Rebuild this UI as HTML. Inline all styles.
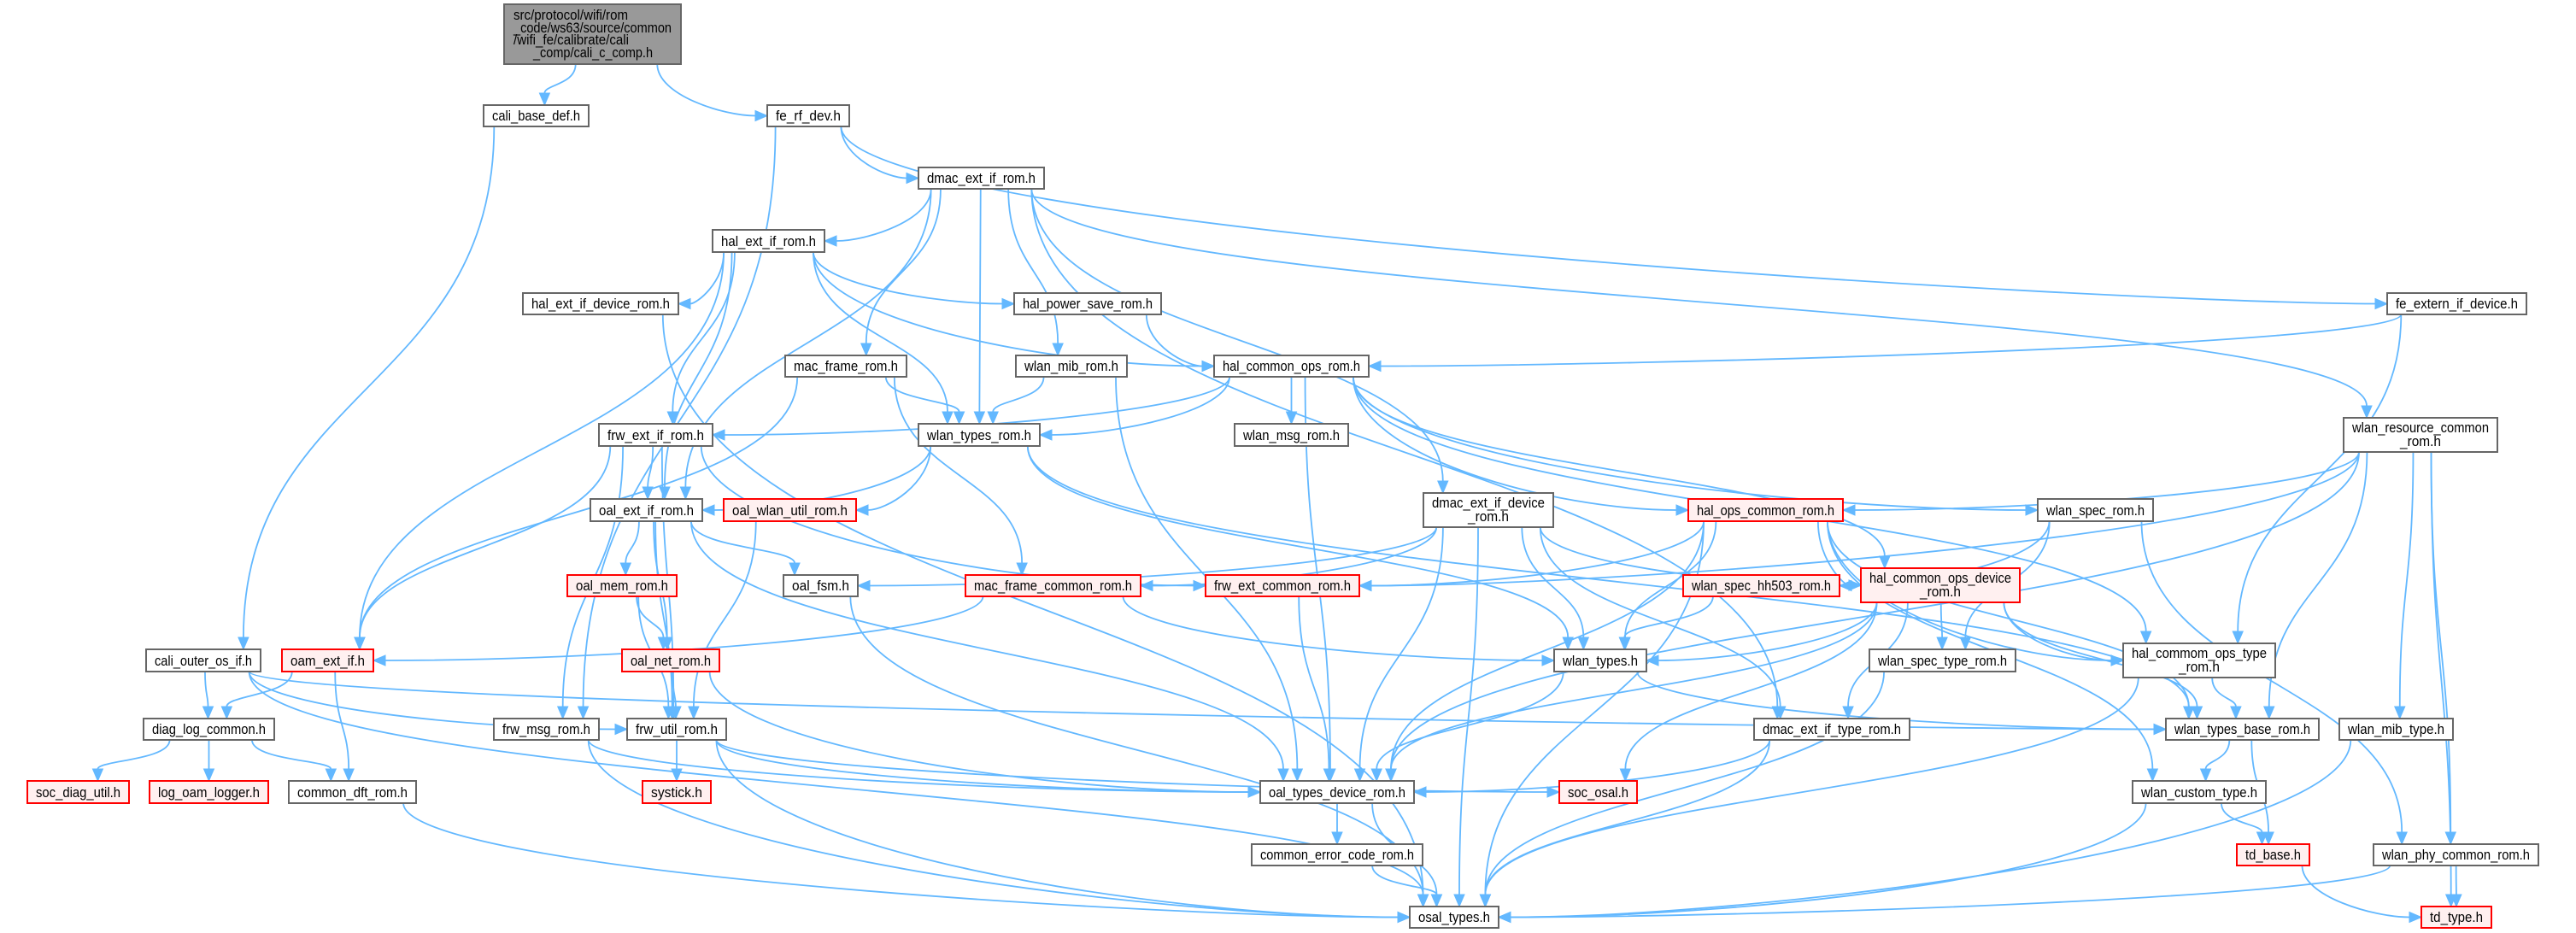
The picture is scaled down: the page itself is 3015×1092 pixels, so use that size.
<!DOCTYPE html>
<html><head><meta charset="utf-8"><style>
html,body{margin:0;padding:0;background:#fff;}
svg{display:block;}
text{font-family:"Liberation Sans",sans-serif;font-size:17px;fill:#000;}
</style></head><body>
<svg id="g" xmlns="http://www.w3.org/2000/svg" width="3015" height="1092" viewBox="0 0 3015 1092">
<rect width="3015" height="1092" fill="#fff"/>
<g id="edges"></g>
<g id="nodes"></g>
</svg>
<script>
var N={
root:[590,797,5,75,["src/protocol/wifi/rom","_code/ws63/source/common","/wifi_fe/calibrate/cali","_comp/cali_c_comp.h"],2],
cbd:[566,689,123,148,["cali_base_def.h"]],
frd:[898,994,123,148,["fe_rf_dev.h"]],
deir:[1075,1222,196,221,["dmac_ext_if_rom.h"]],
heir:[834,965,269,295,["hal_ext_if_rom.h"]],
heidr:[612,794,343,368,["hal_ext_if_device_rom.h"]],
hpsr:[1187,1359,343,368,["hal_power_save_rom.h"]],
feid:[2794,2957,343,368,["fe_extern_if_device.h"]],
mfr:[919,1061,416,441,["mac_frame_rom.h"]],
wmr:[1189,1319,416,441,["wlan_mib_rom.h"]],
hcor:[1421,1602,416,441,["hal_common_ops_rom.h"]],
feir:[701,834,496,522,["frw_ext_if_rom.h"]],
wtr:[1075,1217,496,522,["wlan_types_rom.h"]],
wmsg:[1445,1578,496,522,["wlan_msg_rom.h"]],
wrcr:[2743,2923,489,529,["wlan_resource_common","_rom.h"]],
oeir:[691,822,584,610,["oal_ext_if_rom.h"]],
owur:[847,1002,584,610,["oal_wlan_util_rom.h"],1],
deidr:[1666,1818,577,617,["dmac_ext_if_device","_rom.h"]],
hocr:[1976,2157,584,610,["hal_ops_common_rom.h"],1],
wsr:[2385,2520,584,610,["wlan_spec_rom.h"]],
omr:[664,792,673,698,["oal_mem_rom.h"],1],
ofsm:[917,1004,673,698,["oal_fsm.h"]],
mfcr:[1130,1335,673,698,["mac_frame_common_rom.h"],1],
fecr:[1411,1591,673,698,["frw_ext_common_rom.h"],1],
wshr:[1970,2153,673,698,["wlan_spec_hh503_rom.h"],1],
hcodr:[2178,2364,665,705,["hal_common_ops_device","_rom.h"],1],
coo:[171,305,760,786,["cali_outer_os_if.h"]],
oam:[330,437,760,786,["oam_ext_if.h"],1],
onr:[728,842,760,786,["oal_net_rom.h"],1],
wt:[1819,1927,760,786,["wlan_types.h"]],
wstr:[2188,2359,760,786,["wlan_spec_type_rom.h"]],
hcotr:[2485,2663,753,793,["hal_commom_ops_type","_rom.h"]],
dlc:[168,321,841,866,["diag_log_common.h"]],
fmr:[578,701,841,866,["frw_msg_rom.h"]],
fur:[734,850,841,866,["frw_util_rom.h"]],
deitr:[2053,2235,841,866,["dmac_ext_if_type_rom.h"]],
wtbr:[2535,2714,841,866,["wlan_types_base_rom.h"]],
wmt:[2738,2871,841,866,["wlan_mib_type.h"]],
sdu:[32,151,914,940,["soc_diag_util.h"],1],
lol:[175,314,914,940,["log_oam_logger.h"],1],
cdr:[338,487,914,940,["common_dft_rom.h"]],
sys:[752,832,914,940,["systick.h"],1],
otdr:[1475,1655,914,940,["oal_types_device_rom.h"]],
sos:[1825,1916,914,940,["soc_osal.h"],1],
wct:[2496,2652,914,940,["wlan_custom_type.h"]],
cecr:[1465,1665,988,1013,["common_error_code_rom.h"]],
tdb:[2618,2703,988,1013,["td_base.h"],1],
wpcr:[2778,2971,988,1013,["wlan_phy_common_rom.h"]],
ost:[1650,1754,1061,1086,["osal_types.h"]],
tdt:[2834,2916,1061,1086,["td_type.h"],1]
};
var E="root cbd,root frd,cbd coo,frd deir,frd fmr,frd feid,deir heir,deir oeir,deir mfr,deir wtr,deir wmr,deir deidr,deir wrcr,deir deitr,heir heidr,heir hpsr,heir hcor,heir feir,heir oeir,heir wtr,heir oam,heidr ost,hpsr hcor,feid hcor,feid hcotr,mfr wtr,mfr mfcr,mfr oam,wmr wtr,wmr otdr,hcor feir,hcor wtr,hcor wmsg,hcor hocr,hcor hcodr,hcor wsr,hcor hcotr,hcor otdr,feir oeir,feir oam,feir fmr,feir fur,feir fecr,wtr oeir,wtr owur,wtr wt,wtr wtbr,wrcr hocr,wrcr fecr,wrcr otdr,wrcr wtbr,wrcr wmt,wrcr wpcr,wrcr tdt,oeir omr,oeir onr,oeir ofsm,oeir fur,oeir otdr,owur fur,deidr mfcr,deidr ofsm,deidr wt,deidr otdr,deidr deitr,deidr hcodr,deidr ost,hocr fecr,hocr wt,hocr hcodr,hocr hcotr,hocr wtbr,hocr otdr,hocr wct,hocr ost,wsr wshr,wsr wstr,wsr wpcr,omr onr,omr fur,ofsm ost,mfcr oam,mfcr wt,fecr otdr,wshr wt,hcodr wt,hcodr wstr,hcodr hcotr,hcodr wtbr,hcodr otdr,hcodr sos,hcodr deitr,onr fur,onr otdr,oam dlc,oam cdr,coo dlc,coo fur,coo wtbr,coo ost,wt otdr,wt wtbr,wstr ost,hcotr wtbr,hcotr ost,dlc sdu,dlc lol,dlc cdr,fur sys,fur otdr,fur sos,fur ost,fmr otdr,fmr ost,deitr otdr,deitr ost,wtbr wct,wtbr tdb,wmt ost,cdr ost,otdr cecr,otdr ost,cecr ost,wct tdb,wct ost,tdb tdt,wpcr tdt,wpcr ost".split(",");
var NS="http://www.w3.org/2000/svg";
var eg=document.getElementById("edges"),ng=document.getElementById("nodes");
function el(t,a,p){var e=document.createElementNS(NS,t);for(var k in a)e.setAttribute(k,a[k]);p.appendChild(e);return e;}
function cl(v,a,b){return Math.max(a,Math.min(b,v));}
E.forEach(function(s){
 var p=s.split(" "),a=N[p[0]],b=N[p[1]];
 var acx=(a[0]+a[1])/2,bcx=(b[0]+b[1])/2;
 var aw=a[1]-a[0],bw=b[1]-b[0];
 var sx=acx+cl((bcx-acx)*0.3,-aw*0.4,aw*0.4),sy=a[3];
 var dy=b[2]-a[3],dx=bcx-acx;
 var tx,ty,c1x,c1y,c2x,c2y;
 if(Math.abs(dx)>3.5*dy && dy<260){
   var bcy=(b[2]+b[3])/2;
   tx=dx>0?b[0]:b[1];ty=bcy;
   c1x=sx;c1y=sy+(ty-sy)*0.6;
   c2x=tx-(dx>0?1:-1)*Math.min(Math.abs(tx-sx)*0.4,300);c2y=ty;
 } else {
   tx=bcx+cl((acx-bcx)*0.15,-bw*0.35,bw*0.35);ty=b[2];
   c1x=sx;c1y=sy+(ty-sy)*0.5;c2x=tx;c2y=ty-(ty-sy)*0.5;
 }
 var vx=tx-c2x,vy=ty-c2y,L=Math.sqrt(vx*vx+vy*vy)||1;vx/=L;vy/=L;
 var ex=tx-vx*14,ey=ty-vy*14;
 el("path",{d:"M"+sx+","+sy+" C"+c1x+","+c1y+" "+c2x+","+c2y+" "+ex+","+ey,fill:"none",stroke:"#63b8ff","stroke-width":"1.8"},eg);
 var px=-vy,py=vx;
 el("polygon",{points:tx+","+ty+" "+(ex+px*6)+","+(ey+py*6)+" "+(ex-px*6)+","+(ey-py*6),fill:"#63b8ff",stroke:"#63b8ff"},eg);
});
</script>
<script>
(function(){
var svgNodes=document.querySelectorAll("#nodes > g");
})();
</script>
<svg style="position:absolute;left:0;top:0" xmlns="http://www.w3.org/2000/svg" width="3015" height="1092" viewBox="0 0 3015 1092">
<g font-family="Liberation Sans, sans-serif" font-size="17">
<rect x="590" y="5" width="207" height="70" fill="#999" stroke="#666" stroke-width="2"/>
<text x="601" y="23" textLength="134" lengthAdjust="spacingAndGlyphs">src/protocol/wifi/rom</text>
<text x="601" y="38" textLength="185" lengthAdjust="spacingAndGlyphs">_code/ws63/source/common</text>
<text x="601" y="52" textLength="135" lengthAdjust="spacingAndGlyphs">/wifi_fe/calibrate/cali</text>
<text x="624" y="67" textLength="140" lengthAdjust="spacingAndGlyphs">_comp/cali_c_comp.h</text>

<rect x="566" y="123" width="123" height="25" fill="#fff" stroke="#666" stroke-width="2"/><text x="576" y="141" textLength="103" lengthAdjust="spacingAndGlyphs">cali_base_def.h</text>
<rect x="898" y="123" width="96" height="25" fill="#fff" stroke="#666" stroke-width="2"/><text x="908" y="141" textLength="76" lengthAdjust="spacingAndGlyphs">fe_rf_dev.h</text>
<rect x="1075" y="196" width="147" height="25" fill="#fff" stroke="#666" stroke-width="2"/><text x="1085" y="214" textLength="127" lengthAdjust="spacingAndGlyphs">dmac_ext_if_rom.h</text>
<rect x="834" y="269" width="131" height="26" fill="#fff" stroke="#666" stroke-width="2"/><text x="844" y="288" textLength="111" lengthAdjust="spacingAndGlyphs">hal_ext_if_rom.h</text>
<rect x="612" y="343" width="182" height="25" fill="#fff" stroke="#666" stroke-width="2"/><text x="622" y="361" textLength="162" lengthAdjust="spacingAndGlyphs">hal_ext_if_device_rom.h</text>
<rect x="1187" y="343" width="172" height="25" fill="#fff" stroke="#666" stroke-width="2"/><text x="1197" y="361" textLength="152" lengthAdjust="spacingAndGlyphs">hal_power_save_rom.h</text>
<rect x="2794" y="343" width="163" height="25" fill="#fff" stroke="#666" stroke-width="2"/><text x="2804" y="361" textLength="143" lengthAdjust="spacingAndGlyphs">fe_extern_if_device.h</text>
<rect x="919" y="416" width="142" height="25" fill="#fff" stroke="#666" stroke-width="2"/><text x="929" y="434" textLength="122" lengthAdjust="spacingAndGlyphs">mac_frame_rom.h</text>
<rect x="1189" y="416" width="130" height="25" fill="#fff" stroke="#666" stroke-width="2"/><text x="1199" y="434" textLength="110" lengthAdjust="spacingAndGlyphs">wlan_mib_rom.h</text>
<rect x="1421" y="416" width="181" height="25" fill="#fff" stroke="#666" stroke-width="2"/><text x="1431" y="434" textLength="161" lengthAdjust="spacingAndGlyphs">hal_common_ops_rom.h</text>
<rect x="701" y="496" width="133" height="26" fill="#fff" stroke="#666" stroke-width="2"/><text x="711" y="515" textLength="113" lengthAdjust="spacingAndGlyphs">frw_ext_if_rom.h</text>
<rect x="1075" y="496" width="142" height="26" fill="#fff" stroke="#666" stroke-width="2"/><text x="1085" y="515" textLength="122" lengthAdjust="spacingAndGlyphs">wlan_types_rom.h</text>
<rect x="1445" y="496" width="133" height="26" fill="#fff" stroke="#666" stroke-width="2"/><text x="1455" y="515" textLength="113" lengthAdjust="spacingAndGlyphs">wlan_msg_rom.h</text>
<rect x="2743" y="489" width="180" height="40" fill="#fff" stroke="#666" stroke-width="2"/><text x="2753" y="506" textLength="160" lengthAdjust="spacingAndGlyphs">wlan_resource_common</text><text x="2809" y="522" textLength="48" lengthAdjust="spacingAndGlyphs">_rom.h</text>
<rect x="691" y="584" width="131" height="26" fill="#fff" stroke="#666" stroke-width="2"/><text x="701" y="603" textLength="111" lengthAdjust="spacingAndGlyphs">oal_ext_if_rom.h</text>
<rect x="847" y="584" width="155" height="26" fill="#fff0f0" stroke="#f00" stroke-width="2"/><text x="857" y="603" textLength="135" lengthAdjust="spacingAndGlyphs">oal_wlan_util_rom.h</text>
<rect x="1666" y="577" width="152" height="40" fill="#fff" stroke="#666" stroke-width="2"/><text x="1676" y="594" textLength="132" lengthAdjust="spacingAndGlyphs">dmac_ext_if_device</text><text x="1718" y="610" textLength="48" lengthAdjust="spacingAndGlyphs">_rom.h</text>
<rect x="1976" y="584" width="181" height="26" fill="#fff0f0" stroke="#f00" stroke-width="2"/><text x="1986" y="603" textLength="161" lengthAdjust="spacingAndGlyphs">hal_ops_common_rom.h</text>
<rect x="2385" y="584" width="135" height="26" fill="#fff" stroke="#666" stroke-width="2"/><text x="2395" y="603" textLength="115" lengthAdjust="spacingAndGlyphs">wlan_spec_rom.h</text>
<rect x="664" y="673" width="128" height="25" fill="#fff0f0" stroke="#f00" stroke-width="2"/><text x="674" y="691" textLength="108" lengthAdjust="spacingAndGlyphs">oal_mem_rom.h</text>
<rect x="917" y="673" width="87" height="25" fill="#fff" stroke="#666" stroke-width="2"/><text x="927" y="691" textLength="67" lengthAdjust="spacingAndGlyphs">oal_fsm.h</text>
<rect x="1130" y="673" width="205" height="25" fill="#fff0f0" stroke="#f00" stroke-width="2"/><text x="1140" y="691" textLength="185" lengthAdjust="spacingAndGlyphs">mac_frame_common_rom.h</text>
<rect x="1411" y="673" width="180" height="25" fill="#fff0f0" stroke="#f00" stroke-width="2"/><text x="1421" y="691" textLength="160" lengthAdjust="spacingAndGlyphs">frw_ext_common_rom.h</text>
<rect x="1970" y="673" width="183" height="25" fill="#fff0f0" stroke="#f00" stroke-width="2"/><text x="1980" y="691" textLength="163" lengthAdjust="spacingAndGlyphs">wlan_spec_hh503_rom.h</text>
<rect x="2178" y="665" width="186" height="40" fill="#fff0f0" stroke="#f00" stroke-width="2"/><text x="2188" y="682" textLength="166" lengthAdjust="spacingAndGlyphs">hal_common_ops_device</text><text x="2247" y="698" textLength="48" lengthAdjust="spacingAndGlyphs">_rom.h</text>
<rect x="171" y="760" width="134" height="26" fill="#fff" stroke="#666" stroke-width="2"/><text x="181" y="779" textLength="114" lengthAdjust="spacingAndGlyphs">cali_outer_os_if.h</text>
<rect x="330" y="760" width="107" height="26" fill="#fff0f0" stroke="#f00" stroke-width="2"/><text x="340" y="779" textLength="87" lengthAdjust="spacingAndGlyphs">oam_ext_if.h</text>
<rect x="728" y="760" width="114" height="26" fill="#fff0f0" stroke="#f00" stroke-width="2"/><text x="738" y="779" textLength="94" lengthAdjust="spacingAndGlyphs">oal_net_rom.h</text>
<rect x="1819" y="760" width="108" height="26" fill="#fff" stroke="#666" stroke-width="2"/><text x="1829" y="779" textLength="88" lengthAdjust="spacingAndGlyphs">wlan_types.h</text>
<rect x="2188" y="760" width="171" height="26" fill="#fff" stroke="#666" stroke-width="2"/><text x="2198" y="779" textLength="151" lengthAdjust="spacingAndGlyphs">wlan_spec_type_rom.h</text>
<rect x="2485" y="753" width="178" height="40" fill="#fff" stroke="#666" stroke-width="2"/><text x="2495" y="770" textLength="158" lengthAdjust="spacingAndGlyphs">hal_commom_ops_type</text><text x="2550" y="786" textLength="48" lengthAdjust="spacingAndGlyphs">_rom.h</text>
<rect x="168" y="841" width="153" height="25" fill="#fff" stroke="#666" stroke-width="2"/><text x="178" y="859" textLength="133" lengthAdjust="spacingAndGlyphs">diag_log_common.h</text>
<rect x="578" y="841" width="123" height="25" fill="#fff" stroke="#666" stroke-width="2"/><text x="588" y="859" textLength="103" lengthAdjust="spacingAndGlyphs">frw_msg_rom.h</text>
<rect x="734" y="841" width="116" height="25" fill="#fff" stroke="#666" stroke-width="2"/><text x="744" y="859" textLength="96" lengthAdjust="spacingAndGlyphs">frw_util_rom.h</text>
<rect x="2053" y="841" width="182" height="25" fill="#fff" stroke="#666" stroke-width="2"/><text x="2063" y="859" textLength="162" lengthAdjust="spacingAndGlyphs">dmac_ext_if_type_rom.h</text>
<rect x="2535" y="841" width="179" height="25" fill="#fff" stroke="#666" stroke-width="2"/><text x="2545" y="859" textLength="159" lengthAdjust="spacingAndGlyphs">wlan_types_base_rom.h</text>
<rect x="2738" y="841" width="133" height="25" fill="#fff" stroke="#666" stroke-width="2"/><text x="2748" y="859" textLength="113" lengthAdjust="spacingAndGlyphs">wlan_mib_type.h</text>
<rect x="32" y="914" width="119" height="26" fill="#fff0f0" stroke="#f00" stroke-width="2"/><text x="42" y="933" textLength="99" lengthAdjust="spacingAndGlyphs">soc_diag_util.h</text>
<rect x="175" y="914" width="139" height="26" fill="#fff0f0" stroke="#f00" stroke-width="2"/><text x="185" y="933" textLength="119" lengthAdjust="spacingAndGlyphs">log_oam_logger.h</text>
<rect x="338" y="914" width="149" height="26" fill="#fff" stroke="#666" stroke-width="2"/><text x="348" y="933" textLength="129" lengthAdjust="spacingAndGlyphs">common_dft_rom.h</text>
<rect x="752" y="914" width="80" height="26" fill="#fff0f0" stroke="#f00" stroke-width="2"/><text x="762" y="933" textLength="60" lengthAdjust="spacingAndGlyphs">systick.h</text>
<rect x="1475" y="914" width="180" height="26" fill="#fff" stroke="#666" stroke-width="2"/><text x="1485" y="933" textLength="160" lengthAdjust="spacingAndGlyphs">oal_types_device_rom.h</text>
<rect x="1825" y="914" width="91" height="26" fill="#fff0f0" stroke="#f00" stroke-width="2"/><text x="1835" y="933" textLength="71" lengthAdjust="spacingAndGlyphs">soc_osal.h</text>
<rect x="2496" y="914" width="156" height="26" fill="#fff" stroke="#666" stroke-width="2"/><text x="2506" y="933" textLength="136" lengthAdjust="spacingAndGlyphs">wlan_custom_type.h</text>
<rect x="1465" y="988" width="200" height="25" fill="#fff" stroke="#666" stroke-width="2"/><text x="1475" y="1006" textLength="180" lengthAdjust="spacingAndGlyphs">common_error_code_rom.h</text>
<rect x="2618" y="988" width="85" height="25" fill="#fff0f0" stroke="#f00" stroke-width="2"/><text x="2628" y="1006" textLength="65" lengthAdjust="spacingAndGlyphs">td_base.h</text>
<rect x="2778" y="988" width="193" height="25" fill="#fff" stroke="#666" stroke-width="2"/><text x="2788" y="1006" textLength="173" lengthAdjust="spacingAndGlyphs">wlan_phy_common_rom.h</text>
<rect x="1650" y="1061" width="104" height="25" fill="#fff" stroke="#666" stroke-width="2"/><text x="1660" y="1079" textLength="84" lengthAdjust="spacingAndGlyphs">osal_types.h</text>
<rect x="2834" y="1061" width="82" height="25" fill="#fff0f0" stroke="#f00" stroke-width="2"/><text x="2844" y="1079" textLength="62" lengthAdjust="spacingAndGlyphs">td_type.h</text>
</g>
</svg>
</body></html>
